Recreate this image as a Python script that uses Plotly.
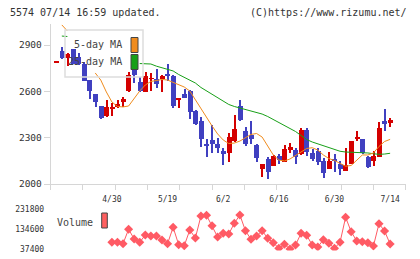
import plotly.graph_objects as go

W, H = 420, 259

# ---------------- data ----------------
tick_idx = [10, 20, 30, 40, 50, 60]
tick_text = ["4/30", "5/19", "6/2", "6/16", "6/30", "7/14"]

opens = [2785, 2861, 2814, 2874, 2825, 2777, 2673, 2581, 2505, 2442,
         2490, 2500, 2529, 2602, 2750, 2663, 2598, 2680, 2680, 2680,
         2706, 2699, 2545, 2583, 2602, 2475, 2408, 2258, 2285, 2259,
         2216, 2199, 2280, 2505, 2343, 2317, 2252, 2097, 2160, 2118,
         2181, 2144, 2222, 2220, 2194, 2350, 2198, 2214, 2149, 2097,
         2160, 2130, 2086, 2130, 2293, 2291, 2177, 2146, 2177, 2408,
         2397]
highs = [2791, 2887, 2846, 2876, 2850, 2790, 2675, 2583, 2507, 2544,
         2525, 2544, 2565, 2727, 2780, 2695, 2722, 2720, 2747, 2705,
         2777, 2705, 2560, 2613, 2610, 2480, 2433, 2290, 2382, 2296,
         2233, 2330, 2447, 2544, 2370, 2408, 2259, 2130, 2177, 2188,
         2195, 2252, 2264, 2235, 2365, 2360, 2225, 2230, 2166, 2205,
         2192, 2149, 2235, 2280, 2343, 2293, 2180, 2212, 2403, 2483,
         2430]
lows = [2785, 2807, 2766, 2775, 2770, 2669, 2550, 2499, 2418, 2432,
        2440, 2490, 2500, 2598, 2652, 2598, 2595, 2600, 2620, 2598,
        2670, 2490, 2490, 2555, 2420, 2382, 2241, 2177, 2200, 2199,
        2120, 2145, 2275, 2408, 2248, 2259, 2145, 2047, 2035, 2115,
        2129, 2140, 2200, 2130, 2190, 2183, 2150, 2123, 2037, 2097,
        2080, 2060, 2086, 2128, 2278, 2196, 2106, 2118, 2175, 2343,
        2371]
closes = [2791, 2816, 2840, 2777, 2775, 2669, 2604, 2529, 2429, 2500,
          2497, 2516, 2550, 2706, 2705, 2604, 2699, 2686, 2645, 2699,
          2700, 2507, 2555, 2560, 2468, 2390, 2290, 2252, 2262, 2235,
          2196, 2306, 2354, 2414, 2259, 2294, 2166, 2130, 2080, 2181,
          2155, 2225, 2240, 2178, 2350, 2205, 2162, 2143, 2069, 2149,
          2149, 2095, 2121, 2278, 2306, 2203, 2112, 2181, 2365, 2386,
          2415]

ma5 = [None, 3030, 2991, None, None, None, None, 2719, 2673, 2596,
       2531, 2502, 2499, 2505, 2557, 2602, 2641, 2664, 2670, 2677,
       2673, 2657, 2644, 2628, 2602, 2544, 2486, 2427, 2376, 2324,
       2285, 2262, 2265, 2278, 2301, 2321, 2327, 2304, 2246, 2188,
       2155, 2149, 2162, 2185, 2210, 2230, 2235, 2220, 2188, 2165,
       2152, 2134, 2115, 2120, 2155, 2188, 2188, 2201, 2243, 2275,
       2289]
ma25 = [None, 2958, 2955, None, None, None, None, None, None, None,
        None, None, None, None, None, 2780, 2779, 2777, 2763, 2751,
        2741, 2732, 2709, 2691, 2671, 2654, 2625, 2602, 2579, 2560,
        2534, 2515, 2502, 2492, 2482, 2473, 2464, 2453, 2437, 2418,
        2398, 2379, 2363, 2340, 2314, 2288, 2272, 2259, 2246, 2233,
        2223, 2212, 2207, 2205, 2205, 2205, 2201, 2196, 2192, 2194,
        2199]

volume = [None] * 10 + [
    70000, 70000, 63200, 133100, 86000, 70000, 105400, 100600, 100600, 81100,
    63200, 142900, 58300, 53400, 129700, 90900, 197800, 201200, 150600, 95700,
    113700, 110300, 162300, 202600, 126300, 84500, 100600, 126300, 89400, 68000,
    40800, 60200, 37400, 56800, 113700, 104000, 56800, 47100, 82600, 65100,
    40800, 70000, 191500, 121500, 76300, 72900, 68000, 52000, 160400, 124900,
    61700]
vol_ticks = [37400, 134600, 231800]
vol_tick_text = ["37400", "134600", "231800"]
price_ticks = [2000, 2300, 2600, 2900]

idx = list(range(len(opens)))

# ---------------- style ----------------
RED = "#d40000"
BLUE = "#4040c0"
ORANGE = "#f08c1e"
GREEN = "#18a018"
VOLC = "#ff5a64"
AXC = "#d6d6d6"
TXT = "#333333"
MONO = "DejaVu Sans Mono"


def px_x(p):
    return p / W


def px_y(p):
    return (H - p) / H


colors = [RED if c >= o else BLUE for o, c in zip(opens, closes)]
body_base = [min(o, c) for o, c in zip(opens, closes)]
body_h = [abs(c - o) for o, c in zip(opens, closes)]
wick_h = [h - l for h, l in zip(highs, lows)]

fig = go.Figure()
fig.add_trace(go.Bar(x=idx, y=wick_h, base=lows, width=0.18,
                     marker=dict(color=colors, line=dict(width=0)),
                     xaxis="x", yaxis="y", hoverinfo="skip"))
fig.add_trace(go.Bar(x=idx, y=body_h, base=body_base, width=0.9,
                     marker=dict(color=colors, line=dict(width=0)),
                     xaxis="x", yaxis="y", hoverinfo="skip"))
fig.add_trace(go.Scatter(x=idx, y=ma25, mode="lines",
                         line=dict(color=GREEN, width=1),
                         xaxis="x", yaxis="y"))
fig.add_trace(go.Scatter(x=idx, y=ma5, mode="lines",
                         line=dict(color=ORANGE, width=1),
                         xaxis="x", yaxis="y"))
fig.add_trace(go.Scatter(x=idx, y=volume, mode="lines+markers",
                         line=dict(color=VOLC, width=1),
                         marker=dict(symbol="diamond", size=7, color=VOLC,
                                     line=dict(width=0)),
                         xaxis="x2", yaxis="y2"))

xr = [-1.0, 62.8]
xdom = [px_x(50.7), px_x(405.7)]
minor_vals = [xr[0] + k * (xr[1] - xr[0]) / 11 for k in range(12)]

fig.update_layout(
    template="none",
    width=W, height=H,
    margin=dict(l=0, r=0, t=0, b=0, pad=0, autoexpand=False),
    paper_bgcolor="white", plot_bgcolor="white",
    showlegend=False, barmode="overlay", bargap=0,
    font=dict(family=MONO, color=TXT, size=10),
    xaxis=dict(domain=xdom, range=xr, anchor="y", automargin=False,
               tickmode="array", tickvals=tick_idx, ticktext=tick_text,
               ticks="outside", ticklen=7, tickcolor="rgba(0,0,0,0)",
               tickfont=dict(size=8, family=MONO, color=TXT),
               showline=True, linecolor=AXC, linewidth=1,
               showgrid=False, zeroline=False,
               minor=dict(tickmode="array", tickvals=minor_vals,
                          ticks="outside", ticklen=5, tickcolor=AXC,
                          showgrid=False)),
    yaxis=dict(domain=[px_y(184), px_y(24)], range=[2000, 3036],
               anchor="x", automargin=False,
               tickmode="array", tickvals=price_ticks,
               ticks="outside", ticklen=6, tickcolor=AXC,
               tickfont=dict(size=9.5, family=MONO, color=TXT),
               showline=True, linecolor=AXC, linewidth=1,
               showgrid=False, zeroline=False),
    xaxis2=dict(domain=xdom, range=xr, anchor="y2", automargin=False,
                showticklabels=False, ticks="", showline=False,
                showgrid=False, zeroline=False),
    yaxis2=dict(domain=[px_y(250.52), px_y(207.31)], range=[30000, 240000],
                anchor="x2", automargin=False,
                tickmode="array", tickvals=vol_ticks, ticktext=vol_tick_text,
                ticks="outside", ticklen=4, tickcolor="rgba(0,0,0,0)",
                tickfont=dict(size=8, family=MONO, color=TXT),
                showline=False, showgrid=False, zeroline=False),
)

# header texts
fig.add_annotation(text="5574 07/14 16:59 updated.", xref="paper", yref="paper",
                   x=px_x(8), y=px_y(12.7), xanchor="left", yanchor="middle",
                   showarrow=False, font=dict(size=10, family=MONO, color=TXT))
fig.add_annotation(text="(C)https://www.rizumu.net/", xref="paper", yref="paper",
                   x=px_x(409), y=px_y(12.7), xanchor="right", yanchor="middle",
                   showarrow=False, font=dict(size=10, family=MONO, color=TXT))

# price legend box
fig.add_shape(type="rect", xref="paper", yref="paper",
              x0=px_x(65), x1=px_x(143), y0=px_y(77), y1=px_y(30),
              line=dict(color="#dddddd", width=1.5), fillcolor="rgba(0,0,0,0)",
              layer="above")
for label, col, yc in [("5-day MA", ORANGE, 45), ("25-day MA", GREEN, 62)]:
    fig.add_annotation(text=label, xref="paper", yref="paper",
                       x=px_x(124), y=px_y(yc), xanchor="right", yanchor="middle",
                       showarrow=False, font=dict(size=10, family=MONO, color="#444444"))
    fig.add_shape(type="rect", xref="paper", yref="paper",
                  x0=px_x(131), x1=px_x(138), y0=px_y(yc + 7.5), y1=px_y(yc - 7.5),
                  line=dict(color="#444444", width=1), fillcolor=col, layer="above")

# volume legend
fig.add_annotation(text="Volume", xref="paper", yref="paper",
                   x=px_x(95), y=px_y(222), xanchor="right", yanchor="middle",
                   showarrow=False, font=dict(size=10, family=MONO, color="#444444"))
fig.add_shape(type="rect", xref="paper", yref="paper",
              x0=px_x(101.7), x1=px_x(107.3), y0=px_y(228), y1=px_y(213),
              line=dict(color="#444444", width=1), fillcolor="#ff6060", layer="above")

fig.write_html("out.html")
